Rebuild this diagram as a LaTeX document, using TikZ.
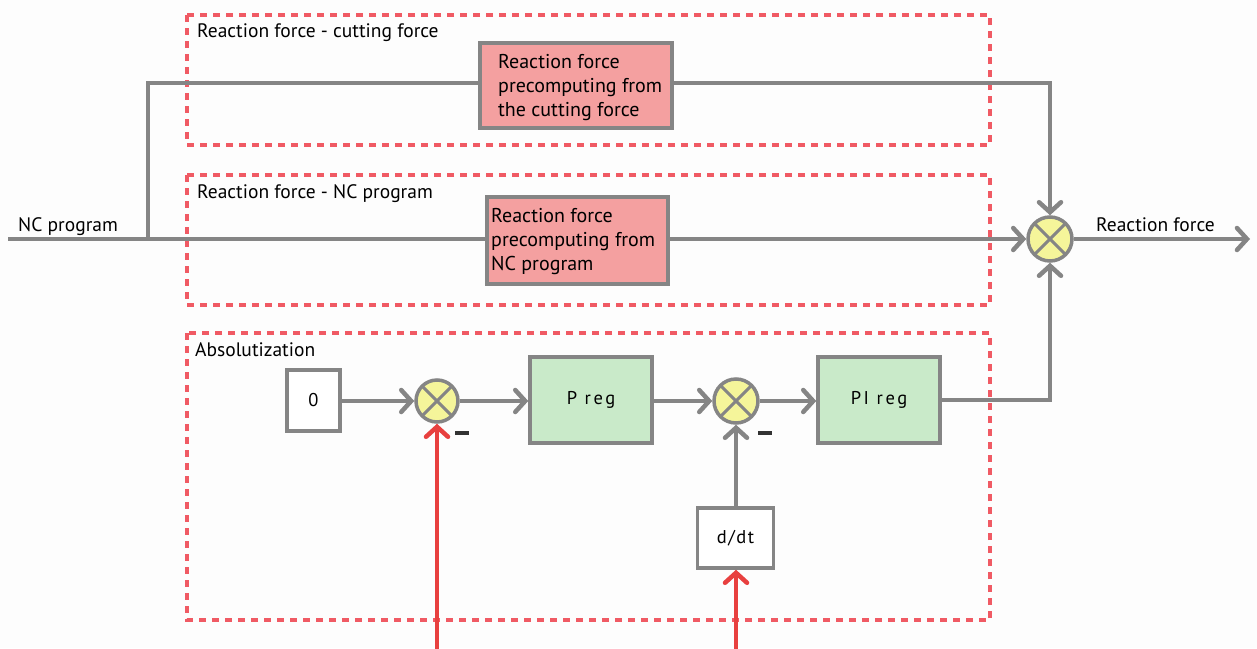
\documentclass[tikz,border=0pt]{standalone}
\usepackage{fontspec}
\setmainfont{PT Sans}
\usetikzlibrary{arrows.meta,calc}
\definecolor{lgray}{HTML}{858585}
\definecolor{dred}{HTML}{F05A64}
\definecolor{ared}{HTML}{E8403F}
\definecolor{sumy}{HTML}{F5F59A}
\definecolor{pinkf}{HTML}{F4A0A0}
\definecolor{greenf}{HTML}{C9EAC9}
\definecolor{bgc}{HTML}{FDFDFD}
\tikzset{
  conn/.style={draw=lgray,line width=4.5pt},
  arr/.style={conn,-{Straight Barb[length=10pt,width=22pt,line cap=round]}},
  rarr/.style={draw=ared,line width=4.5pt,-{Straight Barb[length=10pt,width=22pt,line cap=round]}},
  group/.style={draw=dred,line width=4pt,dash pattern=on 7pt off 6pt},
  pinkbox/.style={draw=lgray,line width=3.5pt,fill=pinkf,inner sep=0pt},
  boxtext/.style={font=\fontsize{20}{24}\selectfont,align=left,inner sep=0pt,anchor=west},
  greenbox/.style={draw=lgray,line width=3.5pt,fill=greenf,font=\fontsize{18.5}{20}\selectfont\addfontfeature{LetterSpace=14}},
  whitebox/.style={draw=lgray,line width=3.5pt,fill=white,font=\fontsize{18.5}{20}\selectfont\addfontfeature{LetterSpace=8}},
  summer/.style={circle,draw=lgray,line width=3.5pt,fill=sumy,minimum size=#1,inner sep=0pt,
    path picture={\draw[lgray,line width=3pt] (path picture bounding box.north west) -- (path picture bounding box.south east)
      (path picture bounding box.north east) -- (path picture bounding box.south west);}},
  lbl/.style={font=\fontsize{19.5}{22}\selectfont,anchor=west,inner sep=0pt},
  minus/.style={draw=black!80,line width=4pt}
}
\begin{document}
\begin{tikzpicture}[x=1pt,y=-1pt]
\fill[bgc] (0,0) rectangle (1257,648);
\useasboundingbox (0,0) rectangle (1257,648);
% group frames
\draw[group] (187,15) rectangle (990,145);
\draw[group] (187,175) rectangle (990,305);
\draw[group] (187,333) rectangle (990,620);
\node[lbl] (t1) at (197,33) {Reaction force - cutting force};
\node[lbl] (t2) at (197,194) {Reaction force - NC program};
\node[lbl] (t3) at (195,350) {Absolutization};
% blocks
\node[pinkbox,minimum width=192pt,minimum height=85pt] (A) at (576,85.5) {};
\node[boxtext] (At) at (498,88) {Reaction force\\precomputing from\\the cutting force};
\node[pinkbox,minimum width=181pt,minimum height=87pt] (B) at (577.5,240.5) {};
\node[boxtext] (Bt) at (491,242) {Reaction force\\precomputing from\\NC program};
\node[summer=44pt] (S) at (1050,239) {};
\coordinate (in) at (8,239);
\coordinate (br) at (148,239);
\coordinate (out) at (1250,239);
\node[lbl] (ncl) at (18,227) {NC program};
\node[lbl] (rfl) at (1096,225) {Reaction force};
\draw[conn] (in) -- (B.west |- in);
\draw[conn,line join=miter] (br) |- (A.west |- 0,83);
\draw[arr,line join=miter] (A.east |- 0,83) -| (S.north);
\draw[arr] (B.east |- S) -- (S.west);
\draw[arr] (S.east) -- (out);
% absolutization
\node[whitebox,minimum width=53pt,minimum height=61pt] (Z) at (313.5,400.5) {0};
\node[summer=42pt] (S1) at (437,401) {};
\node[greenbox,minimum width=122pt,minimum height=86pt] (P) at (591,400) {P reg};
\node[summer=44pt] (S2) at (736,401) {};
\node[greenbox,minimum width=122pt,minimum height=86pt] (PI) at (879,400) {PI reg};
\node[whitebox,minimum width=76pt,minimum height=60pt] (D) at (735.5,538) {d/dt};
\draw[arr] (Z.east |- S1) -- (S1.west);
\draw[arr] (S1.east) -- (P.west |- S1);
\draw[arr] (P.east |- S2) -- (S2.west);
\draw[arr] (S2.east) -- (PI.west |- S2);
\draw[arr,line join=miter] (PI.east) -| (S.south);
\draw[arr] (D.north -| S2) -- (S2.south);
\coordinate (r1) at (437,652);
\coordinate (r2) at (736,652);
\draw[rarr] (r1) -- (S1.south);
\draw[rarr] (r2) -- (D.south -| r2);
\draw[minus] ($(S1.center)+(18,32)$) -- ++(14,0);
\draw[minus] ($(S2.center)+(22,32)$) -- ++(14,0);
\end{tikzpicture}
\end{document}
